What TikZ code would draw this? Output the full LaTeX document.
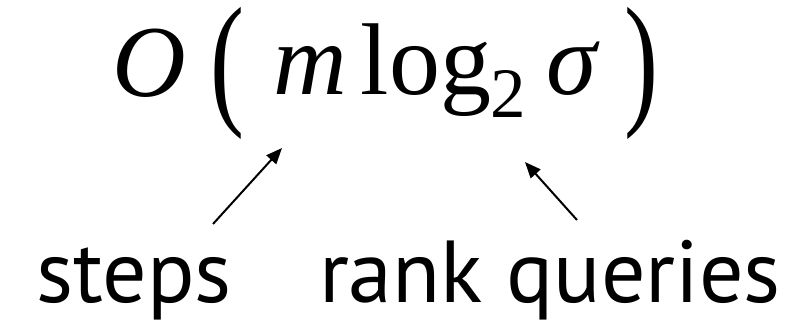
\documentclass[tikz,border=0pt]{standalone}
\usepackage{fontspec}
\setmainfont{Liberation Serif}
\newfontfamily\labfont{PT Sans}
\usetikzlibrary{arrows.meta}
\begin{document}
\begin{tikzpicture}[x=1pt,y=-1pt,
  sym/.style={inner sep=0pt,anchor=base,font=\fontsize{102}{102}\selectfont},
  sub/.style={inner sep=0pt,anchor=base,font=\fontsize{71}{71}\selectfont},
  paren/.style={inner sep=0pt,anchor=center,yscale=1.43,font=\fontsize{102}{102}\selectfont},
  lab/.style={inner sep=0pt,anchor=base,font=\labfont\fontsize{88}{88}\selectfont},
  pointer/.style={line width=2pt,-{Triangle[length=16pt,width=13pt]}}]
\useasboundingbox (0,0) rectangle (801,320);
\node[sym] (O) at (149,97) {\itshape O};
\node[paren,transform shape] (lp) at (227,73) {(};
\node[sym] (m) at (310,95) {\itshape m};
\node[sym] (log) at (426,95) {log};
\node[sub] (two) at (508,118) {2};
\node[sym] (sigma) at (572,95) {\itshape σ};
\node[paren,transform shape] (rp) at (641,73) {)};
\node[lab] (steps) at (134,303) {steps};
\node[lab] (rank) at (550,303) {rank queries};
\coordinate (s1) at (213,224);
\coordinate (s2) at (282,148);
\coordinate (r1) at (577,220);
\coordinate (r2) at (525,162);
\draw[pointer] (s1) -- (s2);
\draw[pointer] (r1) -- (r2);
\end{tikzpicture}
\end{document}
